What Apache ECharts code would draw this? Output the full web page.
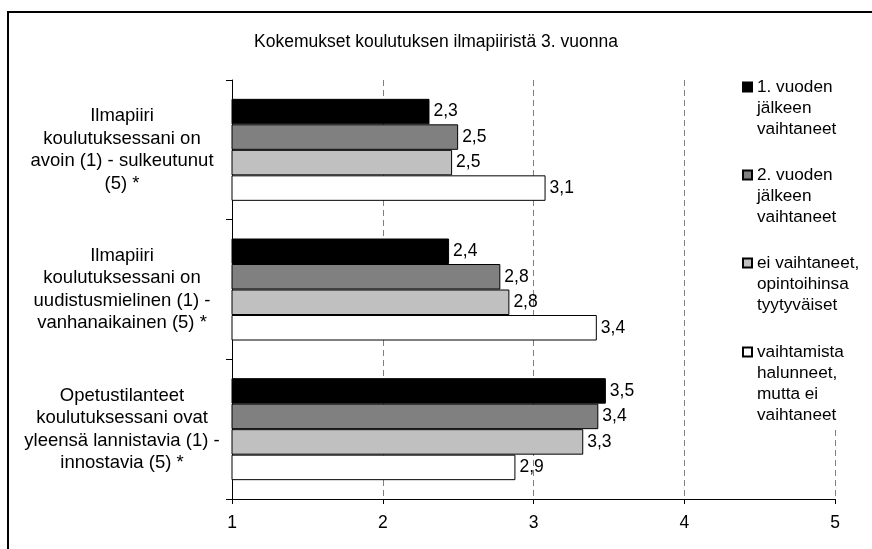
<!DOCTYPE html>
<html>
<head>
<meta charset="utf-8">
<script src="https://cdn.jsdelivr.net/npm/echarts@6/dist/echarts.min.js"></script>
<style>
html,body{margin:0;padding:0;background:#fff;}
#chart{width:872px;height:549px;}
</style>
</head>
<body>
<div id="chart"></div>
<script>
var titleText = 'Kokemukset koulutuksen ilmapiiristä 3. vuonna';
var categories = [
  'Ilmapiiri\nkoulutuksessani on\navoin (1) - sulkeutunut\n(5) *',
  'Ilmapiiri\nkoulutuksessani on\nuudistusmielinen (1) -\nvanhanaikainen (5) *',
  'Opetustilanteet\nkoulutuksessani ovat\nyleensä lannistavia (1) -\ninnostavia (5) *'
];
var seriesNames = [
  '1. vuoden\njälkeen\nvaihtaneet',
  '2. vuoden\njälkeen\nvaihtaneet',
  'ei vaihtaneet,\nopintoihinsa\ntyytyväiset',
  'vaihtamista\nhalunneet,\nmutta ei\nvaihtaneet'
];
var seriesColors = ['#000000', '#808080', '#c0c0c0', '#ffffff'];
var vaihtaneet1 = [2.31, 2.44, 3.48];
var vaihtaneet2 = [2.50, 2.78, 3.43];
var eiVaihtaneet = [2.46, 2.84, 3.33];
var halunneet = [3.08, 3.42, 2.88];
var xTicks = [1, 2, 3, 4, 5];

var seriesValues = [vaihtaneet1, vaihtaneet2, eiVaihtaneet, halunneet];
var FONT = "'Liberation Sans', Arial, sans-serif";
var legendCenters = [87, 175, 263, 352];
var LH = 21;

var chart = echarts.init(document.getElementById('chart'), null, {renderer: 'canvas'});

var legends = seriesNames.map(function (name, i) {
  var n = name.split('\n').length;
  var prefix = new Array(n).join('\n');
  return {
    orient: 'vertical',
    left: 742,
    top: legendCenters[i] - (n - 0.5) * LH,
    padding: 0,
    z: 6,
    itemWidth: 9,
    itemHeight: 9,
    icon: 'rect',
    selectedMode: false,
    data: [name],
    formatter: function (nm) { return prefix + nm; },
    textStyle: {fontFamily: FONT, fontSize: 17.2, color: '#000', lineHeight: LH}
  };
});

var series = seriesNames.map(function (name, i) {
  return {
    name: name,
    type: 'bar',
    data: seriesValues[i],
    barWidth: 25.5,
    barGap: '0%',
    itemStyle: {color: seriesColors[i], borderColor: '#000', borderWidth: 1},
    label: {
      show: true,
      position: 'right',
      distance: 4,
      fontFamily: FONT,
      fontSize: 17.5,
      color: '#000',
      formatter: function (p) { return p.value.toFixed(1).replace('.', ','); }
    }
  };
});

chart.setOption({
  animation: false,
  backgroundColor: '#fff',
  title: {
    text: titleText,
    left: 'center',
    top: 33,
    padding: 0,
    textStyle: {fontFamily: FONT, fontSize: 17.5, fontWeight: 'normal', color: '#000'}
  },
  legend: legends,
  grid: {left: 232, top: 80, right: 37, bottom: 50, containLabel: false},
  xAxis: {
    type: 'value',
    min: xTicks[0],
    max: xTicks[xTicks.length - 1],
    interval: 1,
    axisLine: {show: true, lineStyle: {color: '#000', width: 1}},
    axisTick: {show: true, length: 5, lineStyle: {color: '#000'}},
    axisLabel: {fontFamily: FONT, fontSize: 17.5, color: '#000', margin: 15},
    splitLine: {show: true, lineStyle: {color: '#808080', type: [6, 4], width: 1}}
  },
  yAxis: {
    type: 'category',
    data: categories,
    inverse: true,
    axisLine: {show: true, lineStyle: {color: '#000', width: 1}},
    axisTick: {show: true, length: 6, lineStyle: {color: '#000'}},
    axisLabel: {
      fontFamily: FONT, fontSize: 18.5, color: '#000',
      align: 'center', margin: 110, lineHeight: 22.5
    },
    splitLine: {show: false}
  },
  graphic: [{
    type: 'rect',
    z: 5,
    shape: {x: 733, y: 70, width: 133, height: 356},
    style: {fill: '#ffffff', stroke: 'none'},
    silent: true
  }, {
    type: 'rect',
    z: 5,
    shape: {x: 8, y: 12, width: 1000, height: 1000},
    style: {fill: 'none', stroke: '#000', lineWidth: 2},
    silent: true
  }],
  series: series
});
</script>
</body>
</html>
